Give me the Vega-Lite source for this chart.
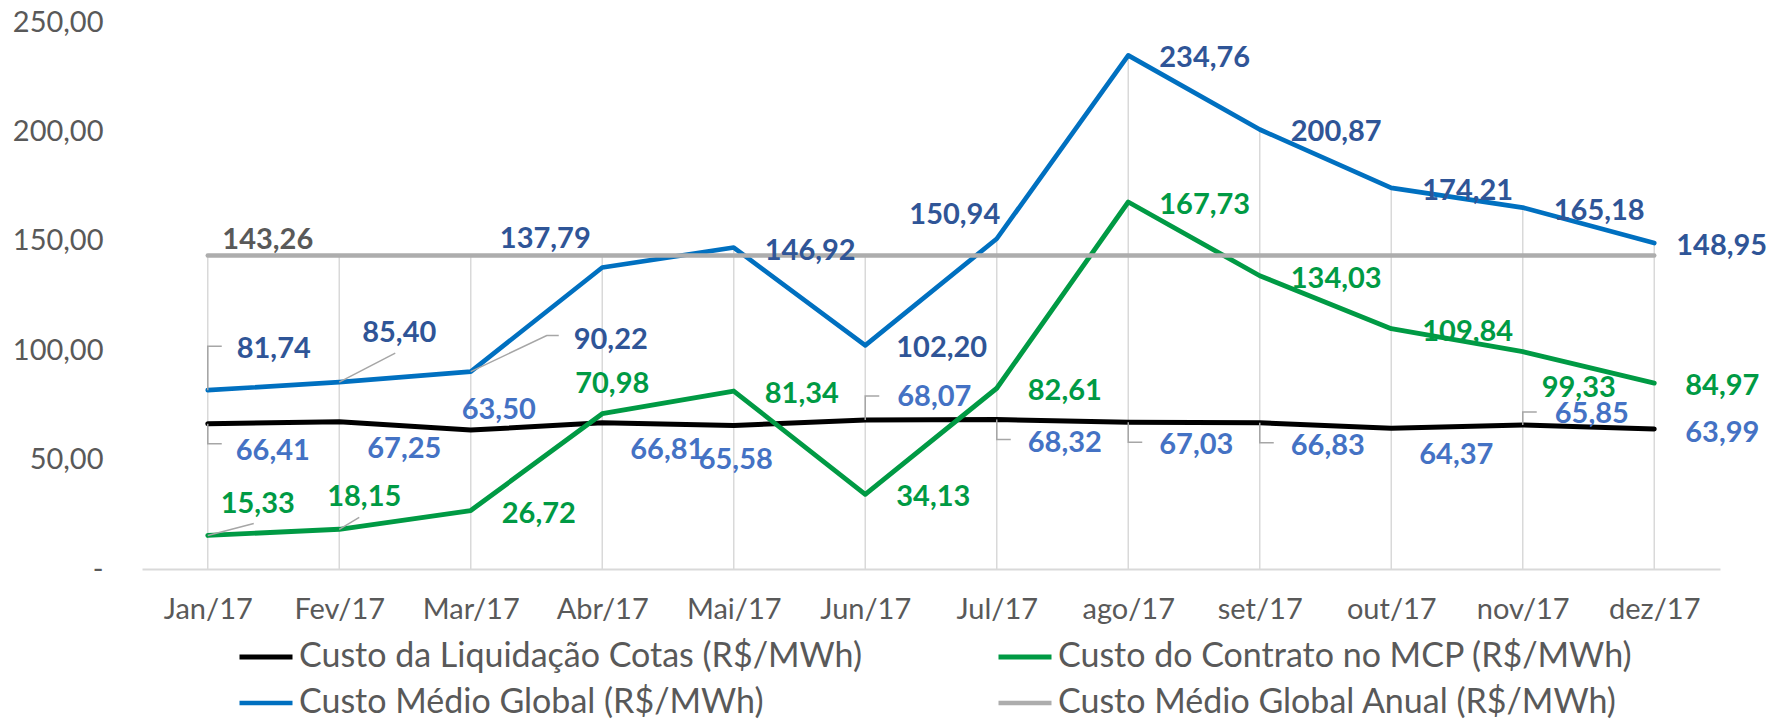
{
  "$schema": "https://vega.github.io/schema/vega-lite/v6.json",
  "width": 1578,
  "height": 547,
  "autosize": {"type": "none"},
  "padding": {"left": 142, "top": 22, "right": 47, "bottom": 154},
  "background": "white",
  "config": {
    "view": {"stroke": null},
    "font": "Lato",
    "locale": {"number": {"decimal": ",", "thousands": ".", "grouping": [3], "currency": ["R$", ""]}}
  },
  "data": {
    "values": [
      {"month": "Jan/17", "series": "Custo da Liquidação Cotas (R$/MWh)", "value": 66.41},
      {"month": "Fev/17", "series": "Custo da Liquidação Cotas (R$/MWh)", "value": 67.25},
      {"month": "Mar/17", "series": "Custo da Liquidação Cotas (R$/MWh)", "value": 63.50},
      {"month": "Abr/17", "series": "Custo da Liquidação Cotas (R$/MWh)", "value": 66.81},
      {"month": "Mai/17", "series": "Custo da Liquidação Cotas (R$/MWh)", "value": 65.58},
      {"month": "Jun/17", "series": "Custo da Liquidação Cotas (R$/MWh)", "value": 68.07},
      {"month": "Jul/17", "series": "Custo da Liquidação Cotas (R$/MWh)", "value": 68.32},
      {"month": "ago/17", "series": "Custo da Liquidação Cotas (R$/MWh)", "value": 67.03},
      {"month": "set/17", "series": "Custo da Liquidação Cotas (R$/MWh)", "value": 66.83},
      {"month": "out/17", "series": "Custo da Liquidação Cotas (R$/MWh)", "value": 64.37},
      {"month": "nov/17", "series": "Custo da Liquidação Cotas (R$/MWh)", "value": 65.85},
      {"month": "dez/17", "series": "Custo da Liquidação Cotas (R$/MWh)", "value": 63.99},
      {"month": "Jan/17", "series": "Custo do Contrato no MCP (R$/MWh)", "value": 15.33},
      {"month": "Fev/17", "series": "Custo do Contrato no MCP (R$/MWh)", "value": 18.15},
      {"month": "Mar/17", "series": "Custo do Contrato no MCP (R$/MWh)", "value": 26.72},
      {"month": "Abr/17", "series": "Custo do Contrato no MCP (R$/MWh)", "value": 70.98},
      {"month": "Mai/17", "series": "Custo do Contrato no MCP (R$/MWh)", "value": 81.34},
      {"month": "Jun/17", "series": "Custo do Contrato no MCP (R$/MWh)", "value": 34.13},
      {"month": "Jul/17", "series": "Custo do Contrato no MCP (R$/MWh)", "value": 82.61},
      {"month": "ago/17", "series": "Custo do Contrato no MCP (R$/MWh)", "value": 167.73},
      {"month": "set/17", "series": "Custo do Contrato no MCP (R$/MWh)", "value": 134.03},
      {"month": "out/17", "series": "Custo do Contrato no MCP (R$/MWh)", "value": 109.84},
      {"month": "nov/17", "series": "Custo do Contrato no MCP (R$/MWh)", "value": 99.33},
      {"month": "dez/17", "series": "Custo do Contrato no MCP (R$/MWh)", "value": 84.97},
      {"month": "Jan/17", "series": "Custo Médio Global (R$/MWh)", "value": 81.74},
      {"month": "Fev/17", "series": "Custo Médio Global (R$/MWh)", "value": 85.40},
      {"month": "Mar/17", "series": "Custo Médio Global (R$/MWh)", "value": 90.22},
      {"month": "Abr/17", "series": "Custo Médio Global (R$/MWh)", "value": 137.79},
      {"month": "Mai/17", "series": "Custo Médio Global (R$/MWh)", "value": 146.92},
      {"month": "Jun/17", "series": "Custo Médio Global (R$/MWh)", "value": 102.20},
      {"month": "Jul/17", "series": "Custo Médio Global (R$/MWh)", "value": 150.94},
      {"month": "ago/17", "series": "Custo Médio Global (R$/MWh)", "value": 234.76},
      {"month": "set/17", "series": "Custo Médio Global (R$/MWh)", "value": 200.87},
      {"month": "out/17", "series": "Custo Médio Global (R$/MWh)", "value": 174.21},
      {"month": "nov/17", "series": "Custo Médio Global (R$/MWh)", "value": 165.18},
      {"month": "dez/17", "series": "Custo Médio Global (R$/MWh)", "value": 148.95},
      {"month": "Jan/17", "series": "Custo Médio Global Anual (R$/MWh)", "value": 143.26},
      {"month": "Fev/17", "series": "Custo Médio Global Anual (R$/MWh)", "value": 143.26},
      {"month": "Mar/17", "series": "Custo Médio Global Anual (R$/MWh)", "value": 143.26},
      {"month": "Abr/17", "series": "Custo Médio Global Anual (R$/MWh)", "value": 143.26},
      {"month": "Mai/17", "series": "Custo Médio Global Anual (R$/MWh)", "value": 143.26},
      {"month": "Jun/17", "series": "Custo Médio Global Anual (R$/MWh)", "value": 143.26},
      {"month": "Jul/17", "series": "Custo Médio Global Anual (R$/MWh)", "value": 143.26},
      {"month": "ago/17", "series": "Custo Médio Global Anual (R$/MWh)", "value": 143.26},
      {"month": "set/17", "series": "Custo Médio Global Anual (R$/MWh)", "value": 143.26},
      {"month": "out/17", "series": "Custo Médio Global Anual (R$/MWh)", "value": 143.26},
      {"month": "nov/17", "series": "Custo Médio Global Anual (R$/MWh)", "value": 143.26},
      {"month": "dez/17", "series": "Custo Médio Global Anual (R$/MWh)", "value": 143.26}
    ]
  },
  "encoding": {
    "x": {
      "field": "month",
      "type": "ordinal",
      "sort": ["Jan/17", "Fev/17", "Mar/17", "Abr/17", "Mai/17", "Jun/17", "Jul/17", "ago/17", "set/17", "out/17", "nov/17", "dez/17"],
      "scale": {"type": "point", "padding": 0.5},
      "axis": {"title": null, "labelFont": "Lato", "labelFontSize": 29, "labelColor": "#595959", "labelPadding": 26, "labelAngle": 0, "ticks": false, "grid": false, "domainColor": "#D9D9D9", "domainWidth": 2}
    },
    "y": {
      "field": "value",
      "type": "quantitative",
      "scale": {"domain": [0, 250], "nice": false, "zero": true},
      "axis": {"title": null, "values": [0, 50, 100, 150, 200, 250], "format": ".2f", "labelExpr": "datum.value == 0 ? '-\u2007' : datum.label", "labelFont": "Lato", "labelFontSize": 29, "labelColor": "#595959", "labelPadding": 39, "ticks": false, "domain": false, "grid": false}
    }
  },
  "layer": [
    {
      "transform": [{"aggregate": [{"op": "max", "field": "value", "as": "maxv"}], "groupby": ["month"]}],
      "mark": {"type": "rule", "color": "#D9D9D9", "strokeWidth": 1.5},
      "encoding": {"y": {"field": "maxv", "type": "quantitative"}, "y2": {"datum": 0}}
    },
    {
      "mark": {"type": "line", "strokeCap": "round", "strokeJoin": "round"},
      "encoding": {
        "color": {
          "field": "series",
          "type": "nominal",
          "scale": {"domain": ["Custo da Liquidação Cotas (R$/MWh)", "Custo do Contrato no MCP (R$/MWh)", "Custo Médio Global (R$/MWh)", "Custo Médio Global Anual (R$/MWh)"], "range": ["#000000", "#009A44", "#0070C0", "#ADADAD"]},
          "legend": {"orient": "none", "legendX": 95, "legendY": 606, "direction": "horizontal", "columns": 2, "columnPadding": 125, "rowPadding": 0, "padding": 0, "title": null, "symbolType": "stroke", "symbolSize": 2809, "symbolStrokeWidth": 5.5, "labelFont": "Lato", "labelFontSize": 34, "labelColor": "#595959", "labelLimit": 900, "labelOffset": 4}
        },
        "strokeWidth": {
          "field": "series",
          "type": "nominal",
          "scale": {"domain": ["Custo da Liquidação Cotas (R$/MWh)", "Custo do Contrato no MCP (R$/MWh)", "Custo Médio Global (R$/MWh)", "Custo Médio Global Anual (R$/MWh)"], "range": [5, 4.5, 4.5, 8]},
          "legend": null
        }
      }
    },
    {
      "transform": [{"filter": {"and": [{"field": "series", "equal": "Custo Médio Global (R$/MWh)"}, {"field": "month", "oneOf": ["Mai/17", "Jun/17", "ago/17", "set/17", "out/17", "nov/17"]}]}}],
      "mark": {"type": "text", "font": "Lato", "fontWeight": "bold", "fontSize": 29, "color": "#2F5597", "align": "left", "baseline": "middle", "dx": 31, "dy": 3},
      "encoding": {"text": {"field": "value", "type": "quantitative", "format": ".2f"}}
    },
    {
      "transform": [{"filter": {"and": [{"field": "series", "equal": "Custo Médio Global (R$/MWh)"}, {"field": "month", "equal": "dez/17"}]}}],
      "mark": {"type": "text", "font": "Lato", "fontWeight": "bold", "fontSize": 29, "color": "#2F5597", "align": "left", "baseline": "middle", "dx": 22, "dy": 3},
      "encoding": {"text": {"field": "value", "type": "quantitative", "format": ".2f"}}
    },
    {
      "transform": [{"filter": {"and": [{"field": "series", "equal": "Custo Médio Global (R$/MWh)"}, {"field": "month", "equal": "Jan/17"}]}}],
      "mark": {"type": "text", "font": "Lato", "fontWeight": "bold", "fontSize": 29, "color": "#2F5597", "align": "center", "baseline": "middle", "dx": 66, "dy": -41},
      "encoding": {"text": {"field": "value", "type": "quantitative", "format": ".2f"}}
    },
    {
      "transform": [{"filter": {"and": [{"field": "series", "equal": "Custo Médio Global (R$/MWh)"}, {"field": "month", "equal": "Fev/17"}]}}],
      "mark": {"type": "text", "font": "Lato", "fontWeight": "bold", "fontSize": 29, "color": "#2F5597", "align": "center", "baseline": "middle", "dx": 60, "dy": -49},
      "encoding": {"text": {"field": "value", "type": "quantitative", "format": ".2f"}}
    },
    {
      "transform": [{"filter": {"and": [{"field": "series", "equal": "Custo Médio Global (R$/MWh)"}, {"field": "month", "equal": "Mar/17"}]}}],
      "mark": {"type": "text", "font": "Lato", "fontWeight": "bold", "fontSize": 29, "color": "#2F5597", "align": "center", "baseline": "middle", "dx": 140, "dy": -32},
      "encoding": {"text": {"field": "value", "type": "quantitative", "format": ".2f"}}
    },
    {
      "transform": [{"filter": {"and": [{"field": "series", "equal": "Custo Médio Global (R$/MWh)"}, {"field": "month", "equal": "Abr/17"}]}}],
      "mark": {"type": "text", "font": "Lato", "fontWeight": "bold", "fontSize": 29, "color": "#2F5597", "align": "center", "baseline": "middle", "dx": -57, "dy": -29},
      "encoding": {"text": {"field": "value", "type": "quantitative", "format": ".2f"}}
    },
    {
      "transform": [{"filter": {"and": [{"field": "series", "equal": "Custo Médio Global (R$/MWh)"}, {"field": "month", "equal": "Jul/17"}]}}],
      "mark": {"type": "text", "font": "Lato", "fontWeight": "bold", "fontSize": 29, "color": "#2F5597", "align": "center", "baseline": "middle", "dx": -42, "dy": -24},
      "encoding": {"text": {"field": "value", "type": "quantitative", "format": ".2f"}}
    },
    {
      "transform": [{"filter": {"and": [{"field": "series", "equal": "Custo da Liquidação Cotas (R$/MWh)"}, {"field": "month", "oneOf": ["Jan/17", "Fev/17", "Abr/17", "out/17"]}]}}],
      "mark": {"type": "text", "font": "Lato", "fontWeight": "bold", "fontSize": 29, "color": "#4472C4", "align": "left", "baseline": "middle", "dx": 28, "dy": 27},
      "encoding": {"text": {"field": "value", "type": "quantitative", "format": ".2f"}}
    },
    {
      "transform": [{"filter": {"and": [{"field": "series", "equal": "Custo da Liquidação Cotas (R$/MWh)"}, {"field": "month", "oneOf": ["Jul/17", "ago/17", "set/17"]}]}}],
      "mark": {"type": "text", "font": "Lato", "fontWeight": "bold", "fontSize": 29, "color": "#4472C4", "align": "left", "baseline": "middle", "dx": 31, "dy": 23},
      "encoding": {"text": {"field": "value", "type": "quantitative", "format": ".2f"}}
    },
    {
      "transform": [{"filter": {"and": [{"field": "series", "equal": "Custo da Liquidação Cotas (R$/MWh)"}, {"field": "month", "equal": "Jun/17"}]}}],
      "mark": {"type": "text", "font": "Lato", "fontWeight": "bold", "fontSize": 29, "color": "#4472C4", "align": "left", "baseline": "middle", "dx": 32, "dy": -23},
      "encoding": {"text": {"field": "value", "type": "quantitative", "format": ".2f"}}
    },
    {
      "transform": [{"filter": {"and": [{"field": "series", "equal": "Custo da Liquidação Cotas (R$/MWh)"}, {"field": "month", "equal": "nov/17"}]}}],
      "mark": {"type": "text", "font": "Lato", "fontWeight": "bold", "fontSize": 29, "color": "#4472C4", "align": "left", "baseline": "middle", "dx": 32, "dy": -11},
      "encoding": {"text": {"field": "value", "type": "quantitative", "format": ".2f"}}
    },
    {
      "transform": [{"filter": {"and": [{"field": "series", "equal": "Custo da Liquidação Cotas (R$/MWh)"}, {"field": "month", "equal": "Mar/17"}]}}],
      "mark": {"type": "text", "font": "Lato", "fontWeight": "bold", "fontSize": 29, "color": "#4472C4", "align": "center", "baseline": "middle", "dx": 28, "dy": -20},
      "encoding": {"text": {"field": "value", "type": "quantitative", "format": ".2f"}}
    },
    {
      "transform": [{"filter": {"and": [{"field": "series", "equal": "Custo da Liquidação Cotas (R$/MWh)"}, {"field": "month", "equal": "Mai/17"}]}}],
      "mark": {"type": "text", "font": "Lato", "fontWeight": "bold", "fontSize": 29, "color": "#4472C4", "align": "center", "baseline": "middle", "dx": 2, "dy": 34},
      "encoding": {"text": {"field": "value", "type": "quantitative", "format": ".2f"}}
    },
    {
      "transform": [{"filter": {"and": [{"field": "series", "equal": "Custo da Liquidação Cotas (R$/MWh)"}, {"field": "month", "equal": "dez/17"}]}}],
      "mark": {"type": "text", "font": "Lato", "fontWeight": "bold", "fontSize": 29, "color": "#4472C4", "align": "left", "baseline": "middle", "dx": 31, "dy": 4},
      "encoding": {"text": {"field": "value", "type": "quantitative", "format": ".2f"}}
    },
    {
      "transform": [{"filter": {"and": [{"field": "series", "equal": "Custo do Contrato no MCP (R$/MWh)"}, {"field": "month", "oneOf": ["Mar/17", "Mai/17", "Jun/17", "Jul/17", "ago/17", "set/17", "out/17", "dez/17"]}]}}],
      "mark": {"type": "text", "font": "Lato", "fontWeight": "bold", "fontSize": 29, "color": "#009A44", "align": "left", "baseline": "middle", "dx": 31, "dy": 3},
      "encoding": {"text": {"field": "value", "type": "quantitative", "format": ".2f"}}
    },
    {
      "transform": [{"filter": {"and": [{"field": "series", "equal": "Custo do Contrato no MCP (R$/MWh)"}, {"field": "month", "equal": "Jan/17"}]}}],
      "mark": {"type": "text", "font": "Lato", "fontWeight": "bold", "fontSize": 29, "color": "#009A44", "align": "center", "baseline": "middle", "dx": 50, "dy": -31},
      "encoding": {"text": {"field": "value", "type": "quantitative", "format": ".2f"}}
    },
    {
      "transform": [{"filter": {"and": [{"field": "series", "equal": "Custo do Contrato no MCP (R$/MWh)"}, {"field": "month", "equal": "Fev/17"}]}}],
      "mark": {"type": "text", "font": "Lato", "fontWeight": "bold", "fontSize": 29, "color": "#009A44", "align": "center", "baseline": "middle", "dx": 25, "dy": -32},
      "encoding": {"text": {"field": "value", "type": "quantitative", "format": ".2f"}}
    },
    {
      "transform": [{"filter": {"and": [{"field": "series", "equal": "Custo do Contrato no MCP (R$/MWh)"}, {"field": "month", "equal": "Abr/17"}]}}],
      "mark": {"type": "text", "font": "Lato", "fontWeight": "bold", "fontSize": 29, "color": "#009A44", "align": "center", "baseline": "middle", "dx": 10, "dy": -30},
      "encoding": {"text": {"field": "value", "type": "quantitative", "format": ".2f"}}
    },
    {
      "transform": [{"filter": {"and": [{"field": "series", "equal": "Custo do Contrato no MCP (R$/MWh)"}, {"field": "month", "equal": "nov/17"}]}}],
      "mark": {"type": "text", "font": "Lato", "fontWeight": "bold", "fontSize": 29, "color": "#009A44", "align": "center", "baseline": "middle", "dx": 56, "dy": 36},
      "encoding": {"text": {"field": "value", "type": "quantitative", "format": ".2f"}}
    },
    {
      "transform": [{"filter": {"and": [{"field": "series", "equal": "Custo Médio Global Anual (R$/MWh)"}, {"field": "month", "equal": "Jan/17"}]}}],
      "mark": {"type": "text", "font": "Lato", "fontWeight": "bold", "fontSize": 29, "color": "#595959", "align": "center", "baseline": "middle", "dx": 60, "dy": -16},
      "encoding": {"text": {"field": "value", "type": "quantitative", "format": ".2f"}}
    },
    {
      "transform": [{"filter": {"and": [{"field": "series", "equal": "Custo da Liquidação Cotas (R$/MWh)"}, {"field": "month", "oneOf": ["Jan/17", "Jul/17", "ago/17", "set/17"]}]}}],
      "mark": {"type": "point", "shape": "M0,0L0,20L14,20", "size": 4, "filled": false, "stroke": "#A6A6A6", "strokeWidth": 1.5, "opacity": 1},
      "encoding": {}
    },
    {
      "transform": [{"filter": {"and": [{"field": "series", "equal": "Custo da Liquidação Cotas (R$/MWh)"}, {"field": "month", "equal": "Jun/17"}]}}],
      "mark": {"type": "point", "shape": "M0,0L0,-24L14,-24", "size": 4, "filled": false, "stroke": "#A6A6A6", "strokeWidth": 1.5, "opacity": 1},
      "encoding": {}
    },
    {
      "transform": [{"filter": {"and": [{"field": "series", "equal": "Custo da Liquidação Cotas (R$/MWh)"}, {"field": "month", "equal": "nov/17"}]}}],
      "mark": {"type": "point", "shape": "M0,0L0,-13L14,-13", "size": 4, "filled": false, "stroke": "#A6A6A6", "strokeWidth": 1.5, "opacity": 1},
      "encoding": {}
    },
    {
      "transform": [{"filter": {"and": [{"field": "series", "equal": "Custo Médio Global (R$/MWh)"}, {"field": "month", "equal": "Jan/17"}]}}],
      "mark": {"type": "point", "shape": "M0,0L0,-44L14,-44", "size": 4, "filled": false, "stroke": "#A6A6A6", "strokeWidth": 1.5, "opacity": 1},
      "encoding": {}
    },
    {
      "transform": [{"filter": {"and": [{"field": "series", "equal": "Custo Médio Global (R$/MWh)"}, {"field": "month", "equal": "Fev/17"}]}}],
      "mark": {"type": "point", "shape": "M0,0L56,-29", "size": 4, "filled": false, "stroke": "#A6A6A6", "strokeWidth": 1.5, "opacity": 1},
      "encoding": {}
    },
    {
      "transform": [{"filter": {"and": [{"field": "series", "equal": "Custo Médio Global (R$/MWh)"}, {"field": "month", "equal": "Mar/17"}]}}],
      "mark": {"type": "point", "shape": "M0,0L76,-36L88,-36", "size": 4, "filled": false, "stroke": "#A6A6A6", "strokeWidth": 1.5, "opacity": 1},
      "encoding": {}
    },
    {
      "transform": [{"filter": {"and": [{"field": "series", "equal": "Custo do Contrato no MCP (R$/MWh)"}, {"field": "month", "equal": "Jan/17"}]}}],
      "mark": {"type": "point", "shape": "M0,0L46,-12", "size": 4, "filled": false, "stroke": "#A6A6A6", "strokeWidth": 1.5, "opacity": 1},
      "encoding": {}
    },
    {
      "transform": [{"filter": {"and": [{"field": "series", "equal": "Custo do Contrato no MCP (R$/MWh)"}, {"field": "month", "equal": "Fev/17"}]}}],
      "mark": {"type": "point", "shape": "M0,0L20,-12", "size": 4, "filled": false, "stroke": "#A6A6A6", "strokeWidth": 1.5, "opacity": 1},
      "encoding": {}
    }
  ]
}
